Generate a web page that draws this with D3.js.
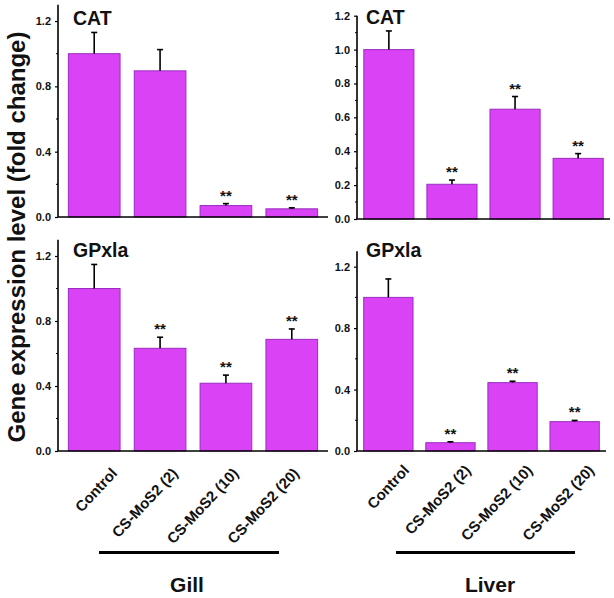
<!DOCTYPE html>
<html><head><meta charset="utf-8">
<script src="https://cdn.jsdelivr.net/npm/d3@7/dist/d3.min.js"></script>
<style>body{margin:0;background:#fff}svg{display:block}text{font-family:"Liberation Sans",Arial,sans-serif;font-weight:bold}</style>
</head><body><svg id="c" width="614" height="598"></svg>
<script>
const categories = ["Control","CS-MoS2 (2)","CS-MoS2 (10)","CS-MoS2 (20)"];
const gillCAT = [1.0, 0.895, 0.07, 0.05];
const gillCATerr = [0.13, 0.13, 0.012, 0.006];
const gillCATsig = [false, false, true, true];
const liverCAT = [1.0, 0.205, 0.648, 0.358];
const liverCATerr = [0.11, 0.025, 0.075, 0.028];
const liverCATsig = [false, true, true, true];
const gillGPx = [1.0, 0.632, 0.417, 0.687];
const gillGPxerr = [0.148, 0.068, 0.05, 0.064];
const gillGPxsig = [false, true, true, true];
const liverGPx = [1.0, 0.054, 0.445, 0.191];
const liverGPxerr = [0.12, 0.006, 0.009, 0.008];
const liverGPxsig = [false, true, true, true];
const tickLabelsA = [0, 0.4, 0.8, 1.2];
const tickLabelsB = [0, 0.2, 0.4, 0.6, 0.8, 1.0, 1.2];
const groupNames = ["Gill", "Liver"];

const svg = d3.select("#c");
const FILL = "#d943f5", STROKE = "#9a2cc0";

const panels = [
  {title:"CAT", vals:gillCAT, err:gillCATerr, sig:gillCATsig, x:[58,328], y:[217,4.7], max:1.3, ticks:tickLabelsA, minor:[0.2,0.6,1.0], pi:0.2, po:0.15, tx:73, ty:25},
  {title:"CAT", vals:liverCAT, err:liverCATerr, sig:liverCATsig, x:[357,610], y:[219,15.7], max:1.2, ticks:tickLabelsB, minor:[0.1,0.3,0.5,0.7,0.9,1.1], pi:0.19, po:0.1, tx:366, ty:24},
  {title:"GPxla", vals:gillGPx, err:gillGPxerr, sig:gillGPxsig, x:[58,328], y:[451,239.75], max:1.3, ticks:tickLabelsA, minor:[0.2,0.6,1.0], pi:0.2, po:0.15, tx:73, ty:257},
  {title:"GPxla", vals:liverGPx, err:liverGPxerr, sig:liverGPxsig, x:[357,606], y:[451,251.3], max:1.3, ticks:tickLabelsA, minor:[0.2,0.6,1.0], pi:0.19, po:0.1, tx:366, ty:257}
];

panels.forEach(p => {
  const x = d3.scaleBand().domain(categories).range(p.x).paddingInner(p.pi).paddingOuter(p.po);
  const y = d3.scaleLinear().domain([0, p.max]).range(p.y);
  const g = svg.append("g");
  const rows = categories.map((c,i)=>({c, v:p.vals[i], e:p.err[i], s:p.sig[i]}));
  g.selectAll("rect").data(rows).join("rect")
    .attr("x", d=>x(d.c)+0.5).attr("width", x.bandwidth()-1)
    .attr("y", d=>y(d.v)).attr("height", d=>y(0)-y(d.v))
    .attr("fill", FILL).attr("stroke", STROKE).attr("stroke-width", 1);
  const eg = g.selectAll("g.err").data(rows).join("g").attr("class","err");
  eg.append("line").attr("x1", d=>x(d.c)+x.bandwidth()/2).attr("x2", d=>x(d.c)+x.bandwidth()/2)
    .attr("y1", d=>y(d.v)).attr("y2", d=>y(d.v+d.e)).attr("stroke","#000").attr("stroke-width",1.6);
  eg.append("line").attr("x1", d=>x(d.c)+x.bandwidth()/2-3).attr("x2", d=>x(d.c)+x.bandwidth()/2+3)
    .attr("y1", d=>y(d.v+d.e)).attr("y2", d=>y(d.v+d.e)).attr("stroke","#000").attr("stroke-width",1.6);
  g.selectAll("text.sig").data(rows.filter(d=>d.s)).join("text").attr("class","sig")
    .attr("x", d=>x(d.c)+x.bandwidth()/2).attr("y", d=>y(d.v+d.e)-3)
    .attr("text-anchor","middle").attr("font-size",15).attr("fill","#111").text("**");
  const ax = g.append("g").attr("transform",`translate(${p.x[0]},0)`)
    .call(d3.axisLeft(y).tickValues(p.ticks).tickSize(3).tickPadding(4).tickFormat(d3.format(".1f")));
  ax.select(".domain").remove();
  ax.selectAll("text").attr("font-size",11).attr("fill","#111");
  ax.selectAll("line").attr("stroke","#000").attr("stroke-width",1.2);
  g.selectAll("line.minor").data(p.minor).join("line").attr("class","minor")
    .attr("x1",p.x[0]-2).attr("x2",p.x[0]).attr("y1",d=>y(d)).attr("y2",d=>y(d)).attr("stroke","#000");
  g.append("line").attr("x1",p.x[0]).attr("x2",p.x[0]).attr("y1",y(0)).attr("y2",y(p.max)).attr("stroke","#000").attr("stroke-width",1.6);
  g.append("line").attr("x1",p.x[0]).attr("x2",p.x[1]).attr("y1",y(0)).attr("y2",y(0)).attr("stroke","#000").attr("stroke-width",1.6);
  g.append("text").attr("x",p.tx).attr("y",p.ty).attr("font-size",19.5).attr("fill","#111").text(p.title);
});

// category labels
const labelScales = [
  d3.scalePoint().domain(categories).range([118, 300]),
  d3.scalePoint().domain(categories).range([410, 595])
];
const labelY = [474, 471];
labelScales.forEach((s, k) => {
  svg.append("g").selectAll("text").data(categories).join("text")
    .attr("transform", d=>`translate(${s(d)},${labelY[k]}) rotate(-47)`)
    .attr("text-anchor","end").attr("font-size",15).attr("fill","#111").text(d=>d);
});
const groupLines = [[99,279],[396,575]];
const groupX = d3.scalePoint().domain(groupNames).range([187, 490]);
groupNames.forEach((n,i)=>{
  svg.append("line").attr("x1",groupLines[i][0]).attr("x2",groupLines[i][1]).attr("y1",552.5).attr("y2",552.5)
    .attr("stroke","#000").attr("stroke-width",3);
  svg.append("text").attr("x",groupX(n)).attr("y",592).attr("text-anchor","middle").attr("font-size",21).attr("fill","#111").text(n);
});
svg.append("text").attr("transform","translate(25,237) rotate(-90)").attr("text-anchor","middle")
  .attr("font-size",24).attr("fill","#111").text("Gene expression level (fold change)");
</script></body></html>
